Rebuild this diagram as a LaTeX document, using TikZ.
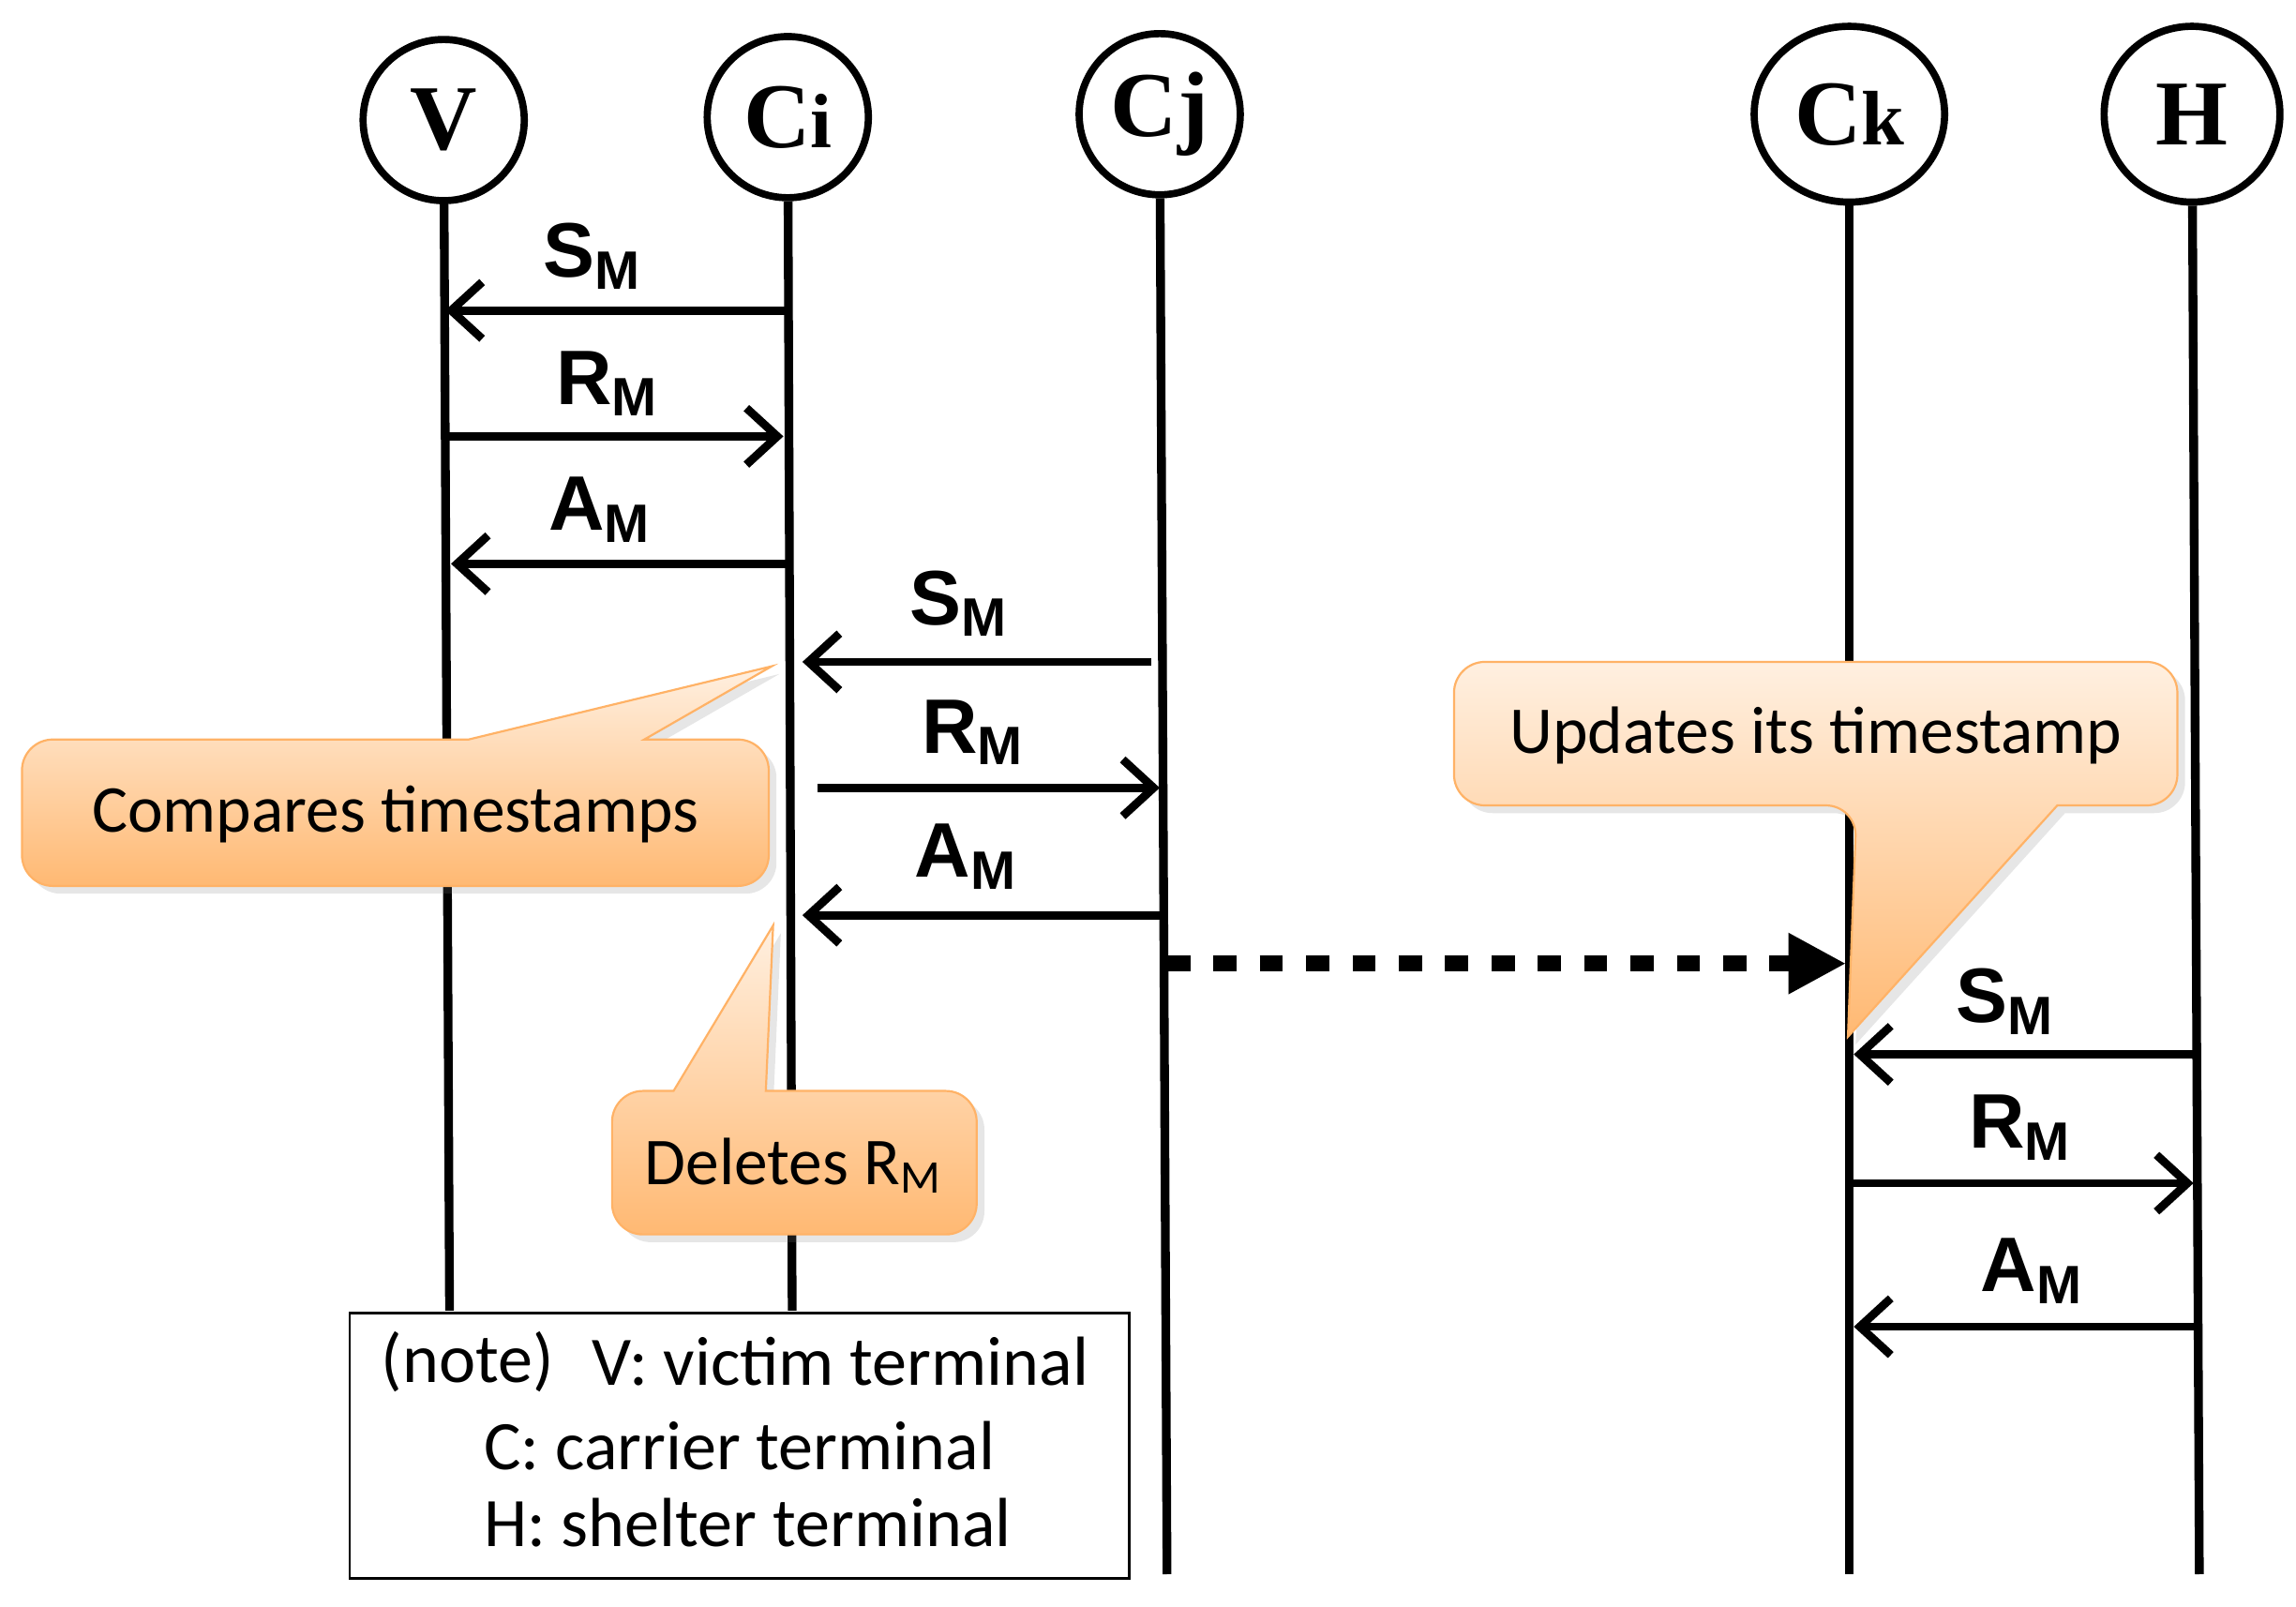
\documentclass[tikz,border=0pt]{standalone}
\usepackage{fontspec}
\setmainfont{Liberation Serif}
\newfontfamily\msgf{Liberation Sans}
\newfontfamily\calf{Carlito}
\usetikzlibrary{arrows.meta,shadows,shapes.geometric}
\begin{document}
\begin{tikzpicture}[x=0.01cm,y=-0.01cm,
 actor/.style={draw,circle,line width=1.4pt,minimum size=1.1cm,inner sep=0pt,font=\fontsize{18}{20}\selectfont\bfseries},
 life/.style={line width=1.7pt},
 msg/.style={line width=1.6pt,-{Straight Barb[length=6pt,width=11pt,line width=1.6pt]}},
 lbl/.style={font=\msgf\bfseries\fontsize{15}{18}\selectfont},
 call/.style={draw=orange!60,line width=0.4pt,top color=orange!12,bottom color=orange!55,drop shadow={opacity=0.2,shadow xshift=1.5pt,shadow yshift=-1.5pt}},
 ctext/.style={font=\calf\fontsize{13}{16}\selectfont},
 ntext/.style={font=\calf\fontsize{13.5}{16}\selectfont,anchor=west}]
\useasboundingbox (0,0) rectangle (1568,1097);
% actors
\node[actor] (V) at (303,82) {V};
\node[actor] (Ci) at (538,80) {C{\fontsize{15}{16}\selectfont i}};
\node[actor] (Cj) at (792,78) {Cj};
\node[actor,ellipse,minimum width=1.3cm,minimum height=1.2cm] (Ck) at (1263,78) {C{\fontsize{15}{16}\selectfont k}};
\node[actor,minimum size=1.2cm] (H) at (1497,78) {H};
% lifeline ends
\coordinate (Ve) at (307,895);
\coordinate (Cie) at (541,895);
\coordinate (Cje) at (797,1075);
\coordinate (Cke) at (1263,1075);
\coordinate (He) at (1502,1075);
\draw[life] (V) -- (Ve);
\draw[life] (Ci) -- (Cie);
\draw[life] (Cj) -- (Cje);
\draw[life] (Ck) -- (Cke);
\draw[life] (H) -- (He);
% message points
\foreach \n/\x/\y in {a1/537/212,a2/304/212,b1/305/298,b2/535/298,c1/537/385,c2/308/385,
 d1/786/452,d2/548/452,e1/558/538,e2/792/538,f1/793/625,f2/548/625,
 h1/1500/720,h2/1266/720,i1/1266/808,i2/1498/808,j1/1500/906,j2/1266/906,
 g1/797/658,g2/1260/658}
 \coordinate (\n) at (\x,\y);
\draw[msg] (a1) -- (a2); \node[lbl] (la) at (405,175) {S\textsubscript{M}};
\draw[msg] (b1) -- (b2); \node[lbl] (lb) at (415,262) {R\textsubscript{M}};
\draw[msg] (c1) -- (c2); \node[lbl] (lc) at (410,348) {A\textsubscript{M}};
\draw[msg] (d1) -- (d2); \node[lbl] (ld) at (655,412) {S\textsubscript{M}};
\draw[msg] (e1) -- (e2); \node[lbl] (le) at (665,500) {R\textsubscript{M}};
\draw[msg] (f1) -- (f2); \node[lbl] (lf) at (660,585) {A\textsubscript{M}};
\draw[msg] (h1) -- (h2); \node[lbl] (lh) at (1370,684) {S\textsubscript{M}};
\draw[msg] (i1) -- (i2); \node[lbl] (li) at (1380,770) {R\textsubscript{M}};
\draw[msg] (j1) -- (j2); \node[lbl] (lj) at (1388,868) {A\textsubscript{M}};
\draw[line width=3.2pt,dash pattern=on 4.5pt off 4.5pt,-{Triangle[length=11pt,width=12pt,line width=0pt]}] (g1) -- (g2);
% callouts
\path[call] (40,505) [rounded corners=6pt] -- (15,505) -- (15,605) -- (525,605) -- (525,505) [sharp corners] -- (440,505) -- (527,455) -- (320,505) -- cycle;
\node[ctext] (t1) at (270,556) {Compares timestamps};
\path[call] (1100,452) [rounded corners=6pt] -- (993,452) -- (993,550) -- (1268,550) [sharp corners] -- (1262,708) -- (1405,550) [rounded corners=6pt] -- (1487,550) -- (1487,452) -- cycle;
\node[ctext] (t2) at (1240,502) {Updates its timestamp};
\path[call] (440,745) [rounded corners=6pt] -- (418,745) -- (418,843) -- (667,843) -- (667,745) [sharp corners] -- (523,745) -- (528,632) -- (460,745) -- cycle;
\node[ctext] (t3) at (542,796) {Deletes R\textsubscript{M}};
% note
\node[draw,fill=white,line width=0.5pt,minimum width=5.32cm,minimum height=1.81cm,anchor=north west] (note) at (238,896) {};
\node[ntext] (n0) at (248,930) {(note)};
\node[ntext] (n1) at (392,930) {V: victim terminal};
\node[ntext] (n2) at (318,987) {C: carrier terminal};
\node[ntext] (n3) at (318,1040) {H: shelter terminal};
\end{tikzpicture}
\end{document}
